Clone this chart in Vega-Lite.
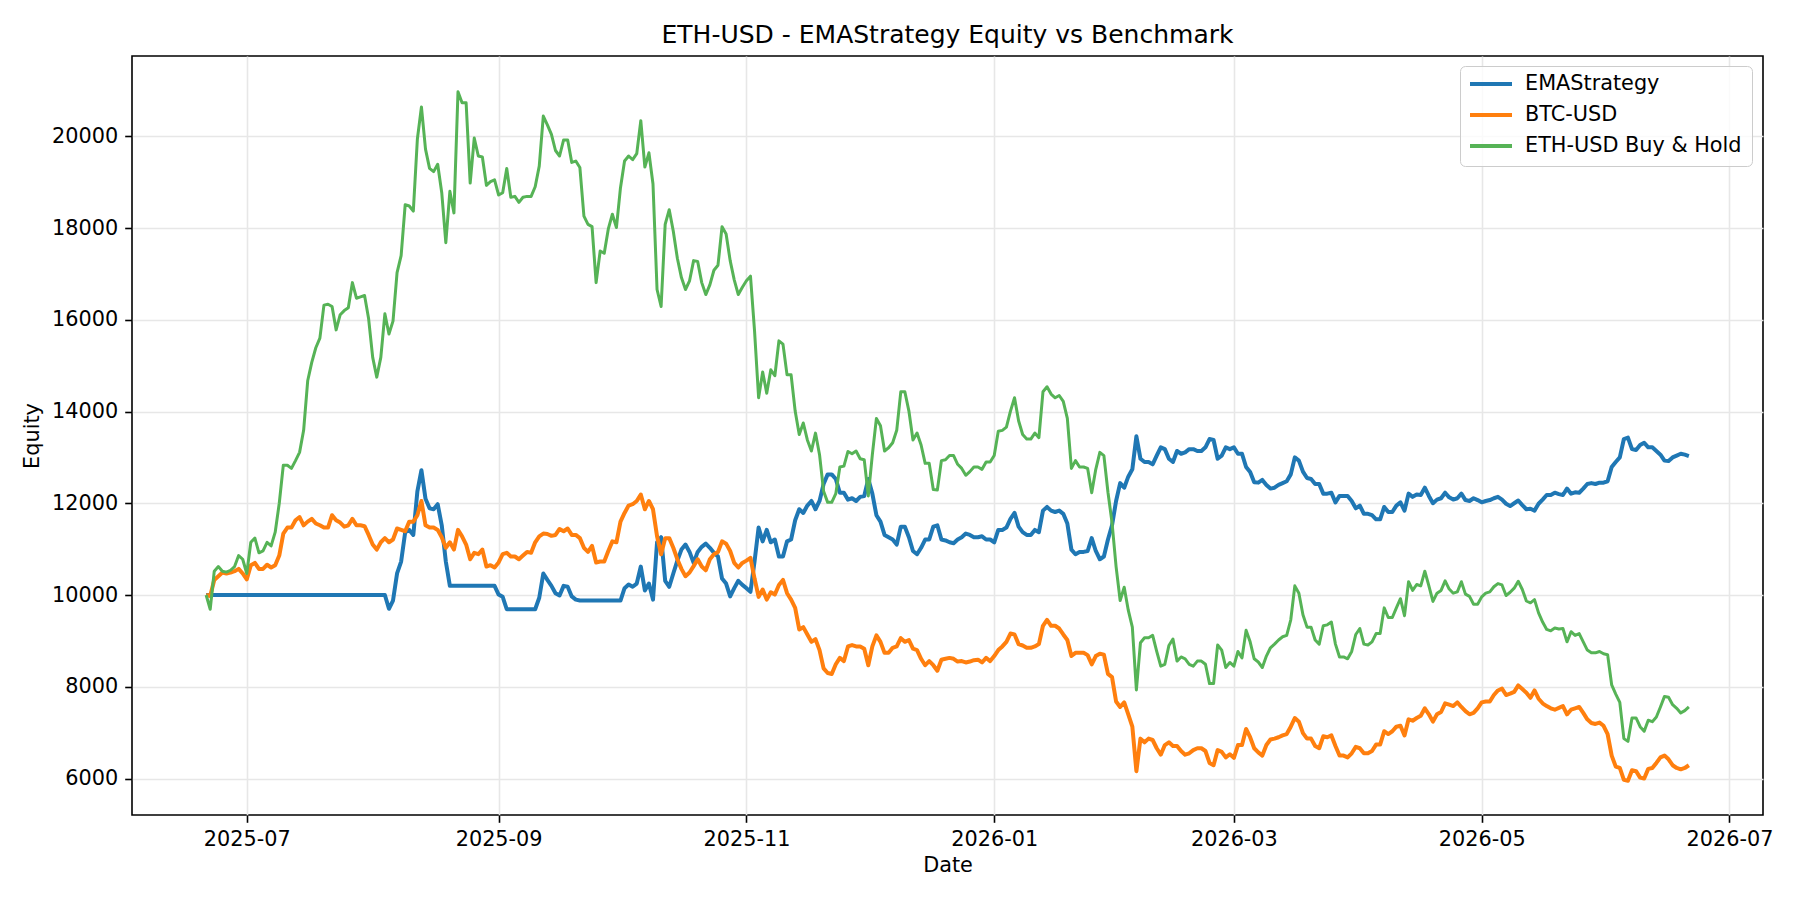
{
  "$schema": "https://vega.github.io/schema/vega-lite/v6.json",
  "width": 1631,
  "height": 759,
  "autosize": {"type": "none"},
  "padding": {"left": 132, "top": 56, "right": 37, "bottom": 85},
  "background": "white",
  "config": {
    "font": "DejaVu Sans",
    "view": {"stroke": "#000000", "strokeWidth": 1.6},
    "axis": {
      "labelFont": "DejaVu Sans",
      "labelFontSize": 20.8,
      "labelColor": "#000000",
      "titleFont": "DejaVu Sans",
      "titleFontSize": 20.8,
      "titleFontWeight": "normal",
      "titleColor": "#000000",
      "tickColor": "#000000",
      "tickSize": 7.3,
      "tickWidth": 1.6,
      "labelPadding": 7,
      "domain": false,
      "grid": true,
      "gridColor": "#e7e7e7",
      "gridWidth": 1.6
    }
  },
  "title": {
    "text": "ETH-USD - EMAStrategy Equity vs Benchmark",
    "font": "DejaVu Sans",
    "fontSize": 25,
    "fontWeight": "normal",
    "color": "#000000",
    "anchor": "middle",
    "frame": "group",
    "offset": 8
  },
  "data": {
    "values": [
      {"date":"2025-06-21","ema":10000,"btc":10000,"eth":10000},
      {"date":"2025-06-22","ema":10000,"btc":9980,"eth":9690},
      {"date":"2025-06-23","ema":10000,"btc":10330,"eth":10520},
      {"date":"2025-06-24","ema":10000,"btc":10410,"eth":10620},
      {"date":"2025-06-25","ema":10000,"btc":10490,"eth":10520},
      {"date":"2025-06-26","ema":10000,"btc":10470,"eth":10500},
      {"date":"2025-06-27","ema":10000,"btc":10490,"eth":10540},
      {"date":"2025-06-28","ema":10000,"btc":10520,"eth":10620},
      {"date":"2025-06-29","ema":10000,"btc":10570,"eth":10860},
      {"date":"2025-06-30","ema":10000,"btc":10470,"eth":10780},
      {"date":"2025-07-01","ema":10000,"btc":10340,"eth":10470},
      {"date":"2025-07-02","ema":10000,"btc":10650,"eth":11150},
      {"date":"2025-07-03","ema":10000,"btc":10700,"eth":11240},
      {"date":"2025-07-04","ema":10000,"btc":10570,"eth":10920},
      {"date":"2025-07-05","ema":10000,"btc":10570,"eth":10960},
      {"date":"2025-07-06","ema":10000,"btc":10660,"eth":11150},
      {"date":"2025-07-07","ema":10000,"btc":10600,"eth":11070},
      {"date":"2025-07-08","ema":10000,"btc":10650,"eth":11370},
      {"date":"2025-07-09","ema":10000,"btc":10860,"eth":12000},
      {"date":"2025-07-10","ema":10000,"btc":11340,"eth":12830},
      {"date":"2025-07-11","ema":10000,"btc":11470,"eth":12830},
      {"date":"2025-07-12","ema":10000,"btc":11470,"eth":12760},
      {"date":"2025-07-13","ema":10000,"btc":11630,"eth":12930},
      {"date":"2025-07-14","ema":10000,"btc":11700,"eth":13110},
      {"date":"2025-07-15","ema":10000,"btc":11520,"eth":13590},
      {"date":"2025-07-16","ema":10000,"btc":11600,"eth":14670},
      {"date":"2025-07-17","ema":10000,"btc":11660,"eth":15070},
      {"date":"2025-07-18","ema":10000,"btc":11560,"eth":15390},
      {"date":"2025-07-19","ema":10000,"btc":11520,"eth":15600},
      {"date":"2025-07-20","ema":10000,"btc":11470,"eth":16320},
      {"date":"2025-07-21","ema":10000,"btc":11470,"eth":16340},
      {"date":"2025-07-22","ema":10000,"btc":11740,"eth":16290},
      {"date":"2025-07-23","ema":10000,"btc":11630,"eth":15780},
      {"date":"2025-07-24","ema":10000,"btc":11580,"eth":16110},
      {"date":"2025-07-25","ema":10000,"btc":11490,"eth":16200},
      {"date":"2025-07-26","ema":10000,"btc":11520,"eth":16260},
      {"date":"2025-07-27","ema":10000,"btc":11660,"eth":16810},
      {"date":"2025-07-28","ema":10000,"btc":11520,"eth":16470},
      {"date":"2025-07-29","ema":10000,"btc":11520,"eth":16500},
      {"date":"2025-07-30","ema":10000,"btc":11500,"eth":16530},
      {"date":"2025-07-31","ema":10000,"btc":11310,"eth":16020},
      {"date":"2025-08-01","ema":10000,"btc":11100,"eth":15180},
      {"date":"2025-08-02","ema":10000,"btc":10990,"eth":14750},
      {"date":"2025-08-03","ema":10000,"btc":11150,"eth":15180},
      {"date":"2025-08-04","ema":10000,"btc":11240,"eth":16130},
      {"date":"2025-08-05","ema":9700,"btc":11150,"eth":15690},
      {"date":"2025-08-06","ema":9880,"btc":11210,"eth":15970},
      {"date":"2025-08-07","ema":10470,"btc":11450,"eth":17030},
      {"date":"2025-08-08","ema":10730,"btc":11420,"eth":17400},
      {"date":"2025-08-09","ema":11370,"btc":11390,"eth":18510},
      {"date":"2025-08-10","ema":11420,"btc":11600,"eth":18480},
      {"date":"2025-08-11","ema":11310,"btc":11600,"eth":18370},
      {"date":"2025-08-12","ema":12260,"btc":11740,"eth":19940},
      {"date":"2025-08-13","ema":12720,"btc":12050,"eth":20640},
      {"date":"2025-08-14","ema":12100,"btc":11520,"eth":19720},
      {"date":"2025-08-15","ema":11890,"btc":11470,"eth":19300},
      {"date":"2025-08-16","ema":11870,"btc":11470,"eth":19230},
      {"date":"2025-08-17","ema":11980,"btc":11420,"eth":19390},
      {"date":"2025-08-18","ema":11520,"btc":11260,"eth":18770},
      {"date":"2025-08-19","ema":10730,"btc":11030,"eth":17680},
      {"date":"2025-08-20","ema":10200,"btc":11150,"eth":18800},
      {"date":"2025-08-21","ema":10200,"btc":10990,"eth":18330},
      {"date":"2025-08-22","ema":10200,"btc":11420,"eth":20970},
      {"date":"2025-08-23","ema":10200,"btc":11280,"eth":20730},
      {"date":"2025-08-24","ema":10200,"btc":11100,"eth":20730},
      {"date":"2025-08-25","ema":10200,"btc":10780,"eth":18980},
      {"date":"2025-08-26","ema":10200,"btc":10920,"eth":19960},
      {"date":"2025-08-27","ema":10200,"btc":10890,"eth":19570},
      {"date":"2025-08-28","ema":10200,"btc":10990,"eth":19550},
      {"date":"2025-08-29","ema":10200,"btc":10620,"eth":18930},
      {"date":"2025-08-30","ema":10200,"btc":10650,"eth":19010},
      {"date":"2025-08-31","ema":10200,"btc":10600,"eth":19050},
      {"date":"2025-09-01","ema":10010,"btc":10710,"eth":18720},
      {"date":"2025-09-02","ema":9960,"btc":10890,"eth":18770},
      {"date":"2025-09-03","ema":9690,"btc":10920,"eth":19300},
      {"date":"2025-09-04","ema":9690,"btc":10840,"eth":18670},
      {"date":"2025-09-05","ema":9690,"btc":10840,"eth":18690},
      {"date":"2025-09-06","ema":9690,"btc":10780,"eth":18560},
      {"date":"2025-09-07","ema":9690,"btc":10860,"eth":18670},
      {"date":"2025-09-08","ema":9690,"btc":10940,"eth":18690},
      {"date":"2025-09-09","ema":9690,"btc":10920,"eth":18690},
      {"date":"2025-09-10","ema":9690,"btc":11150,"eth":18900},
      {"date":"2025-09-11","ema":9940,"btc":11280,"eth":19350},
      {"date":"2025-09-12","ema":10470,"btc":11340,"eth":20440},
      {"date":"2025-09-13","ema":10330,"btc":11330,"eth":20250},
      {"date":"2025-09-14","ema":10200,"btc":11290,"eth":20040},
      {"date":"2025-09-15","ema":10040,"btc":11310,"eth":19690},
      {"date":"2025-09-16","ema":9990,"btc":11440,"eth":19570},
      {"date":"2025-09-17","ema":10200,"btc":11390,"eth":19920},
      {"date":"2025-09-18","ema":10180,"btc":11450,"eth":19920},
      {"date":"2025-09-19","ema":9970,"btc":11310,"eth":19430},
      {"date":"2025-09-20","ema":9900,"btc":11310,"eth":19460},
      {"date":"2025-09-21","ema":9880,"btc":11240,"eth":19320},
      {"date":"2025-09-22","ema":9880,"btc":11030,"eth":18260},
      {"date":"2025-09-23","ema":9880,"btc":10940,"eth":18080},
      {"date":"2025-09-24","ema":9880,"btc":11070,"eth":18030},
      {"date":"2025-09-25","ema":9880,"btc":10710,"eth":16810},
      {"date":"2025-09-26","ema":9880,"btc":10730,"eth":17500},
      {"date":"2025-09-27","ema":9880,"btc":10730,"eth":17450},
      {"date":"2025-09-28","ema":9880,"btc":10960,"eth":17980},
      {"date":"2025-09-29","ema":9880,"btc":11170,"eth":18300},
      {"date":"2025-09-30","ema":9880,"btc":11150,"eth":18010},
      {"date":"2025-10-01","ema":9880,"btc":11600,"eth":18880},
      {"date":"2025-10-02","ema":10150,"btc":11790,"eth":19460},
      {"date":"2025-10-03","ema":10230,"btc":11950,"eth":19570},
      {"date":"2025-10-04","ema":10180,"btc":11980,"eth":19490},
      {"date":"2025-10-05","ema":10250,"btc":12050,"eth":19620},
      {"date":"2025-10-06","ema":10620,"btc":12190,"eth":20340},
      {"date":"2025-10-07","ema":10100,"btc":11870,"eth":19330},
      {"date":"2025-10-08","ema":10250,"btc":12050,"eth":19640},
      {"date":"2025-10-09","ema":9900,"btc":11870,"eth":18960},
      {"date":"2025-10-10","ema":11150,"btc":11280,"eth":16660},
      {"date":"2025-10-11","ema":11260,"btc":10890,"eth":16290},
      {"date":"2025-10-12","ema":10310,"btc":11240,"eth":18080},
      {"date":"2025-10-13","ema":10180,"btc":11240,"eth":18400},
      {"date":"2025-10-14","ema":10470,"btc":11030,"eth":17930},
      {"date":"2025-10-15","ema":10750,"btc":10780,"eth":17340},
      {"date":"2025-10-16","ema":10990,"btc":10570,"eth":16920},
      {"date":"2025-10-17","ema":11100,"btc":10410,"eth":16660},
      {"date":"2025-10-18","ema":10940,"btc":10490,"eth":16850},
      {"date":"2025-10-19","ema":10700,"btc":10630,"eth":17290},
      {"date":"2025-10-20","ema":10940,"btc":10780,"eth":17270},
      {"date":"2025-10-21","ema":11050,"btc":10620,"eth":16810},
      {"date":"2025-10-22","ema":11120,"btc":10540,"eth":16550},
      {"date":"2025-10-23","ema":11030,"btc":10780,"eth":16760},
      {"date":"2025-10-24","ema":10920,"btc":10890,"eth":17080},
      {"date":"2025-10-25","ema":10840,"btc":10940,"eth":17190},
      {"date":"2025-10-26","ema":10360,"btc":11170,"eth":18030},
      {"date":"2025-10-27","ema":10250,"btc":11120,"eth":17870},
      {"date":"2025-10-28","ema":9970,"btc":10960,"eth":17290},
      {"date":"2025-10-29","ema":10150,"btc":10700,"eth":16870},
      {"date":"2025-10-30","ema":10310,"btc":10600,"eth":16550},
      {"date":"2025-10-31","ema":10220,"btc":10700,"eth":16710},
      {"date":"2025-11-01","ema":10150,"btc":10750,"eth":16850},
      {"date":"2025-11-02","ema":10070,"btc":10810,"eth":16950},
      {"date":"2025-11-03","ema":10730,"btc":10360,"eth":15760},
      {"date":"2025-11-04","ema":11470,"btc":9960,"eth":14300},
      {"date":"2025-11-05","ema":11170,"btc":10120,"eth":14860},
      {"date":"2025-11-06","ema":11420,"btc":9900,"eth":14400},
      {"date":"2025-11-07","ema":11150,"btc":10060,"eth":14910},
      {"date":"2025-11-08","ema":11210,"btc":10010,"eth":14780},
      {"date":"2025-11-09","ema":10840,"btc":10220,"eth":15540},
      {"date":"2025-11-10","ema":10840,"btc":10330,"eth":15470},
      {"date":"2025-11-11","ema":11170,"btc":10040,"eth":14800},
      {"date":"2025-11-12","ema":11210,"btc":9900,"eth":14800},
      {"date":"2025-11-13","ema":11630,"btc":9720,"eth":14010},
      {"date":"2025-11-14","ema":11870,"btc":9250,"eth":13500},
      {"date":"2025-11-15","ema":11790,"btc":9300,"eth":13750},
      {"date":"2025-11-16","ema":11950,"btc":9140,"eth":13380},
      {"date":"2025-11-17","ema":12050,"btc":8980,"eth":13140},
      {"date":"2025-11-18","ema":11870,"btc":9040,"eth":13530},
      {"date":"2025-11-19","ema":12050,"btc":8800,"eth":13060},
      {"date":"2025-11-20","ema":12420,"btc":8400,"eth":12260},
      {"date":"2025-11-21","ema":12630,"btc":8300,"eth":12020},
      {"date":"2025-11-22","ema":12630,"btc":8280,"eth":12020},
      {"date":"2025-11-23","ema":12530,"btc":8490,"eth":12210},
      {"date":"2025-11-24","ema":12230,"btc":8630,"eth":12790},
      {"date":"2025-11-25","ema":12230,"btc":8560,"eth":12810},
      {"date":"2025-11-26","ema":12080,"btc":8880,"eth":13130},
      {"date":"2025-11-27","ema":12110,"btc":8910,"eth":13080},
      {"date":"2025-11-28","ema":12050,"btc":8880,"eth":13140},
      {"date":"2025-11-29","ema":12140,"btc":8880,"eth":12970},
      {"date":"2025-11-30","ema":12160,"btc":8830,"eth":12950},
      {"date":"2025-12-01","ema":12530,"btc":8470,"eth":12160},
      {"date":"2025-12-02","ema":12210,"btc":8880,"eth":13060},
      {"date":"2025-12-03","ema":11740,"btc":9120,"eth":13850},
      {"date":"2025-12-04","ema":11600,"btc":8980,"eth":13690},
      {"date":"2025-12-05","ema":11310,"btc":8740,"eth":13140},
      {"date":"2025-12-06","ema":11260,"btc":8740,"eth":13210},
      {"date":"2025-12-07","ema":11210,"btc":8850,"eth":13320},
      {"date":"2025-12-08","ema":11100,"btc":8880,"eth":13590},
      {"date":"2025-12-09","ema":11490,"btc":9060,"eth":14430},
      {"date":"2025-12-10","ema":11490,"btc":8980,"eth":14430},
      {"date":"2025-12-11","ema":11260,"btc":9020,"eth":14010},
      {"date":"2025-12-12","ema":10960,"btc":8830,"eth":13380},
      {"date":"2025-12-13","ema":10890,"btc":8800,"eth":13530},
      {"date":"2025-12-14","ema":11030,"btc":8610,"eth":13270},
      {"date":"2025-12-15","ema":11210,"btc":8470,"eth":12870},
      {"date":"2025-12-16","ema":11210,"btc":8560,"eth":12870},
      {"date":"2025-12-17","ema":11490,"btc":8470,"eth":12300},
      {"date":"2025-12-18","ema":11520,"btc":8350,"eth":12290},
      {"date":"2025-12-19","ema":11210,"btc":8590,"eth":12930},
      {"date":"2025-12-20","ema":11190,"btc":8610,"eth":12950},
      {"date":"2025-12-21","ema":11150,"btc":8630,"eth":13040},
      {"date":"2025-12-22","ema":11130,"btc":8610,"eth":13040},
      {"date":"2025-12-23","ema":11210,"btc":8550,"eth":12850},
      {"date":"2025-12-24","ema":11260,"btc":8560,"eth":12760},
      {"date":"2025-12-25","ema":11340,"btc":8530,"eth":12610},
      {"date":"2025-12-26","ema":11310,"btc":8550,"eth":12690},
      {"date":"2025-12-27","ema":11260,"btc":8580,"eth":12790},
      {"date":"2025-12-28","ema":11260,"btc":8590,"eth":12790},
      {"date":"2025-12-29","ema":11280,"btc":8530,"eth":12740},
      {"date":"2025-12-30","ema":11210,"btc":8630,"eth":12900},
      {"date":"2025-12-31","ema":11210,"btc":8560,"eth":12900},
      {"date":"2026-01-01","ema":11150,"btc":8670,"eth":13040},
      {"date":"2026-01-02","ema":11420,"btc":8800,"eth":13570},
      {"date":"2026-01-03","ema":11420,"btc":8880,"eth":13590},
      {"date":"2026-01-04","ema":11470,"btc":8980,"eth":13660},
      {"date":"2026-01-05","ema":11660,"btc":9160,"eth":14010},
      {"date":"2026-01-06","ema":11790,"btc":9140,"eth":14300},
      {"date":"2026-01-07","ema":11490,"btc":8930,"eth":13800},
      {"date":"2026-01-08","ema":11370,"btc":8900,"eth":13500},
      {"date":"2026-01-09","ema":11310,"btc":8850,"eth":13400},
      {"date":"2026-01-10","ema":11310,"btc":8850,"eth":13400},
      {"date":"2026-01-11","ema":11420,"btc":8880,"eth":13530},
      {"date":"2026-01-12","ema":11370,"btc":8930,"eth":13430},
      {"date":"2026-01-13","ema":11840,"btc":9330,"eth":14430},
      {"date":"2026-01-14","ema":11920,"btc":9460,"eth":14540},
      {"date":"2026-01-15","ema":11840,"btc":9330,"eth":14380},
      {"date":"2026-01-16","ema":11810,"btc":9330,"eth":14300},
      {"date":"2026-01-17","ema":11840,"btc":9270,"eth":14350},
      {"date":"2026-01-18","ema":11770,"btc":9140,"eth":14220},
      {"date":"2026-01-19","ema":11560,"btc":9020,"eth":13850},
      {"date":"2026-01-20","ema":10990,"btc":8670,"eth":12760},
      {"date":"2026-01-21","ema":10890,"btc":8740,"eth":12930},
      {"date":"2026-01-22","ema":10940,"btc":8740,"eth":12790},
      {"date":"2026-01-23","ema":10940,"btc":8740,"eth":12790},
      {"date":"2026-01-24","ema":10960,"btc":8690,"eth":12760},
      {"date":"2026-01-25","ema":11240,"btc":8490,"eth":12230},
      {"date":"2026-01-26","ema":10960,"btc":8670,"eth":12740},
      {"date":"2026-01-27","ema":10780,"btc":8720,"eth":13110},
      {"date":"2026-01-28","ema":10840,"btc":8700,"eth":13040},
      {"date":"2026-01-29","ema":11210,"btc":8280,"eth":12240},
      {"date":"2026-01-30","ema":11520,"btc":8210,"eth":11580},
      {"date":"2026-01-31","ema":12050,"btc":7680,"eth":10620},
      {"date":"2026-02-01","ema":12440,"btc":7560,"eth":9880},
      {"date":"2026-02-02","ema":12340,"btc":7660,"eth":10170},
      {"date":"2026-02-03","ema":12580,"btc":7400,"eth":9670},
      {"date":"2026-02-04","ema":12740,"btc":7130,"eth":9300},
      {"date":"2026-02-05","ema":13460,"btc":6160,"eth":7930},
      {"date":"2026-02-06","ema":12970,"btc":6870,"eth":8960},
      {"date":"2026-02-07","ema":12900,"btc":6790,"eth":9070},
      {"date":"2026-02-08","ema":12900,"btc":6870,"eth":9070},
      {"date":"2026-02-09","ema":12850,"btc":6840,"eth":9120},
      {"date":"2026-02-10","ema":13040,"btc":6660,"eth":8770},
      {"date":"2026-02-11","ema":13220,"btc":6520,"eth":8450},
      {"date":"2026-02-12","ema":13180,"btc":6730,"eth":8490},
      {"date":"2026-02-13","ema":12970,"btc":6790,"eth":8900},
      {"date":"2026-02-14","ema":12900,"btc":6710,"eth":9040},
      {"date":"2026-02-15","ema":13140,"btc":6710,"eth":8560},
      {"date":"2026-02-16","ema":13080,"btc":6600,"eth":8650},
      {"date":"2026-02-17","ema":13110,"btc":6520,"eth":8610},
      {"date":"2026-02-18","ema":13180,"btc":6550,"eth":8490},
      {"date":"2026-02-19","ema":13180,"btc":6620,"eth":8450},
      {"date":"2026-02-20","ema":13140,"btc":6660,"eth":8560},
      {"date":"2026-02-21","ema":13140,"btc":6660,"eth":8560},
      {"date":"2026-02-22","ema":13220,"btc":6600,"eth":8490},
      {"date":"2026-02-23","ema":13400,"btc":6340,"eth":8070},
      {"date":"2026-02-24","ema":13380,"btc":6290,"eth":8070},
      {"date":"2026-02-25","ema":12970,"btc":6620,"eth":8910},
      {"date":"2026-02-26","ema":13040,"btc":6580,"eth":8800},
      {"date":"2026-02-27","ema":13220,"btc":6460,"eth":8420},
      {"date":"2026-02-28","ema":13180,"btc":6530,"eth":8530},
      {"date":"2026-03-01","ema":13220,"btc":6450,"eth":8450},
      {"date":"2026-03-02","ema":13080,"btc":6730,"eth":8770},
      {"date":"2026-03-03","ema":13080,"btc":6730,"eth":8630},
      {"date":"2026-03-04","ema":12790,"btc":7080,"eth":9230},
      {"date":"2026-03-05","ema":12680,"btc":6900,"eth":8980},
      {"date":"2026-03-06","ema":12460,"btc":6660,"eth":8610},
      {"date":"2026-03-07","ema":12450,"btc":6570,"eth":8540},
      {"date":"2026-03-08","ema":12510,"btc":6500,"eth":8420},
      {"date":"2026-03-09","ema":12400,"btc":6730,"eth":8670},
      {"date":"2026-03-10","ema":12320,"btc":6850,"eth":8850},
      {"date":"2026-03-11","ema":12340,"btc":6870,"eth":8930},
      {"date":"2026-03-12","ema":12400,"btc":6900,"eth":9020},
      {"date":"2026-03-13","ema":12440,"btc":6940,"eth":9090},
      {"date":"2026-03-14","ema":12480,"btc":6970,"eth":9120},
      {"date":"2026-03-15","ema":12630,"btc":7130,"eth":9460},
      {"date":"2026-03-16","ema":13000,"btc":7320,"eth":10200},
      {"date":"2026-03-17","ema":12930,"btc":7240,"eth":10040},
      {"date":"2026-03-18","ema":12690,"btc":6990,"eth":9570},
      {"date":"2026-03-19","ema":12550,"btc":6870,"eth":9300},
      {"date":"2026-03-20","ema":12530,"btc":6870,"eth":9300},
      {"date":"2026-03-21","ema":12420,"btc":6710,"eth":9020},
      {"date":"2026-03-22","ema":12420,"btc":6660,"eth":8930},
      {"date":"2026-03-23","ema":12210,"btc":6920,"eth":9330},
      {"date":"2026-03-24","ema":12210,"btc":6900,"eth":9350},
      {"date":"2026-03-25","ema":12230,"btc":6940,"eth":9410},
      {"date":"2026-03-26","ema":12020,"btc":6710,"eth":8930},
      {"date":"2026-03-27","ema":12160,"btc":6500,"eth":8650},
      {"date":"2026-03-28","ema":12160,"btc":6500,"eth":8650},
      {"date":"2026-03-29","ema":12160,"btc":6460,"eth":8610},
      {"date":"2026-03-30","ema":12050,"btc":6550,"eth":8770},
      {"date":"2026-03-31","ema":11890,"btc":6690,"eth":9140},
      {"date":"2026-04-01","ema":11950,"btc":6660,"eth":9270},
      {"date":"2026-04-02","ema":11770,"btc":6550,"eth":8930},
      {"date":"2026-04-03","ema":11770,"btc":6550,"eth":8910},
      {"date":"2026-04-04","ema":11740,"btc":6600,"eth":8980},
      {"date":"2026-04-05","ema":11650,"btc":6740,"eth":9160},
      {"date":"2026-04-06","ema":11650,"btc":6740,"eth":9160},
      {"date":"2026-04-07","ema":11920,"btc":7030,"eth":9720},
      {"date":"2026-04-08","ema":11810,"btc":6970,"eth":9510},
      {"date":"2026-04-09","ema":11810,"btc":7030,"eth":9510},
      {"date":"2026-04-10","ema":11950,"btc":7130,"eth":9720},
      {"date":"2026-04-11","ema":12020,"btc":7150,"eth":9920},
      {"date":"2026-04-12","ema":11840,"btc":6940,"eth":9550},
      {"date":"2026-04-13","ema":12210,"btc":7290,"eth":10290},
      {"date":"2026-04-14","ema":12140,"btc":7260,"eth":10100},
      {"date":"2026-04-15","ema":12190,"btc":7320,"eth":10230},
      {"date":"2026-04-16","ema":12180,"btc":7370,"eth":10200},
      {"date":"2026-04-17","ema":12340,"btc":7530,"eth":10520},
      {"date":"2026-04-18","ema":12160,"btc":7400,"eth":10200},
      {"date":"2026-04-19","ema":12000,"btc":7240,"eth":9860},
      {"date":"2026-04-20","ema":12080,"btc":7400,"eth":10040},
      {"date":"2026-04-21","ema":12110,"btc":7450,"eth":10100},
      {"date":"2026-04-22","ema":12230,"btc":7640,"eth":10310},
      {"date":"2026-04-23","ema":12130,"btc":7610,"eth":10130},
      {"date":"2026-04-24","ema":12080,"btc":7580,"eth":10040},
      {"date":"2026-04-25","ema":12110,"btc":7660,"eth":10070},
      {"date":"2026-04-26","ema":12210,"btc":7560,"eth":10290},
      {"date":"2026-04-27","ema":12070,"btc":7470,"eth":10020},
      {"date":"2026-04-28","ema":12050,"btc":7400,"eth":9970},
      {"date":"2026-04-29","ema":12110,"btc":7430,"eth":9800},
      {"date":"2026-04-30","ema":12070,"btc":7530,"eth":9800},
      {"date":"2026-05-01","ema":12020,"btc":7660,"eth":9960},
      {"date":"2026-05-02","ema":12050,"btc":7680,"eth":10040},
      {"date":"2026-05-03","ema":12070,"btc":7680,"eth":10070},
      {"date":"2026-05-04","ema":12110,"btc":7820,"eth":10180},
      {"date":"2026-05-05","ema":12140,"btc":7920,"eth":10250},
      {"date":"2026-05-06","ema":12080,"btc":7960,"eth":10220},
      {"date":"2026-05-07","ema":11990,"btc":7820,"eth":9990},
      {"date":"2026-05-08","ema":11940,"btc":7850,"eth":10060},
      {"date":"2026-05-09","ema":12000,"btc":7890,"eth":10150},
      {"date":"2026-05-10","ema":12060,"btc":8030,"eth":10300},
      {"date":"2026-05-11","ema":11960,"btc":7950,"eth":10120},
      {"date":"2026-05-12","ema":11870,"btc":7870,"eth":9870},
      {"date":"2026-05-13","ema":11880,"btc":7760,"eth":9830},
      {"date":"2026-05-14","ema":11840,"btc":7920,"eth":9900},
      {"date":"2026-05-15","ema":11990,"btc":7740,"eth":9610},
      {"date":"2026-05-16","ema":12080,"btc":7640,"eth":9410},
      {"date":"2026-05-17","ema":12180,"btc":7580,"eth":9250},
      {"date":"2026-05-18","ema":12180,"btc":7530,"eth":9220},
      {"date":"2026-05-19","ema":12230,"btc":7500,"eth":9280},
      {"date":"2026-05-20","ema":12200,"btc":7540,"eth":9260},
      {"date":"2026-05-21","ema":12180,"btc":7580,"eth":9270},
      {"date":"2026-05-22","ema":12320,"btc":7400,"eth":8980},
      {"date":"2026-05-23","ema":12210,"btc":7500,"eth":9200},
      {"date":"2026-05-24","ema":12240,"btc":7530,"eth":9120},
      {"date":"2026-05-25","ema":12230,"btc":7560,"eth":9160},
      {"date":"2026-05-26","ema":12320,"btc":7430,"eth":8980},
      {"date":"2026-05-27","ema":12420,"btc":7290,"eth":8800},
      {"date":"2026-05-28","ema":12440,"btc":7210,"eth":8740},
      {"date":"2026-05-29","ema":12420,"btc":7190,"eth":8740},
      {"date":"2026-05-30","ema":12450,"btc":7220,"eth":8770},
      {"date":"2026-05-31","ema":12450,"btc":7150,"eth":8720},
      {"date":"2026-06-01","ema":12480,"btc":6970,"eth":8700},
      {"date":"2026-06-02","ema":12790,"btc":6500,"eth":8040},
      {"date":"2026-06-03","ema":12900,"btc":6260,"eth":7840},
      {"date":"2026-06-04","ema":13000,"btc":6230,"eth":7660},
      {"date":"2026-06-05","ema":13400,"btc":5970,"eth":6870},
      {"date":"2026-06-06","ema":13430,"btc":5950,"eth":6810},
      {"date":"2026-06-07","ema":13180,"btc":6180,"eth":7320},
      {"date":"2026-06-08","ema":13160,"btc":6160,"eth":7320},
      {"date":"2026-06-09","ema":13270,"btc":6020,"eth":7130},
      {"date":"2026-06-10","ema":13320,"btc":6000,"eth":7030},
      {"date":"2026-06-11","ema":13220,"btc":6210,"eth":7270},
      {"date":"2026-06-12","ema":13220,"btc":6230,"eth":7240},
      {"date":"2026-06-13","ema":13140,"btc":6340,"eth":7340},
      {"date":"2026-06-14","ema":13060,"btc":6460,"eth":7560},
      {"date":"2026-06-15","ema":12930,"btc":6500,"eth":7790},
      {"date":"2026-06-16","ema":12920,"btc":6420,"eth":7770},
      {"date":"2026-06-17","ema":13000,"btc":6290,"eth":7610},
      {"date":"2026-06-18","ema":13040,"btc":6230,"eth":7530},
      {"date":"2026-06-19","ema":13080,"btc":6200,"eth":7430},
      {"date":"2026-06-20","ema":13060,"btc":6230,"eth":7480},
      {"date":"2026-06-21","ema":13030,"btc":6290,"eth":7560}
    ]
  },
  "encoding": {
    "x": {
      "field": "date",
      "type": "temporal",
      "title": "Date",
      "scale": {
        "type": "utc",
        "domain": [
          {"year": 2025, "month": 6, "date": 2, "hours": 18, "utc": true},
          {"year": 2026, "month": 7, "date": 9, "hours": 6, "utc": true}
        ]
      },
      "axis": {
        "values": [
          {"year": 2025, "month": 7, "date": 1, "utc": true},
          {"year": 2025, "month": 9, "date": 1, "utc": true},
          {"year": 2025, "month": 11, "date": 1, "utc": true},
          {"year": 2026, "month": 1, "date": 1, "utc": true},
          {"year": 2026, "month": 3, "date": 1, "utc": true},
          {"year": 2026, "month": 5, "date": 1, "utc": true},
          {"year": 2026, "month": 7, "date": 1, "utc": true}
        ],
        "labelExpr": "utcFormat(datum.value, '%Y-%m')",
        "labelAngle": 0,
        "labelFlush": false,
        "labelOverlap": false,
        "titlePadding": 6
      }
    },
    "y": {
      "type": "quantitative",
      "title": "Equity",
      "scale": {"domain": [5205, 21750], "nice": false, "zero": false},
      "axis": {
        "values": [6000, 8000, 10000, 12000, 14000, 16000, 18000, 20000],
        "format": "d",
        "labelFlush": false,
        "labelOverlap": false,
        "titlePadding": 9
      }
    },
    "color": {
      "type": "nominal",
      "scale": {
        "domain": ["EMAStrategy", "BTC-USD", "ETH-USD Buy & Hold"],
        "range": ["#1f77b4", "#ff7f0e", "#56b356"]
      },
      "legend": {
        "orient": "none",
        "legendX": 1328,
        "legendY": 10,
        "title": null,
        "symbolType": "stroke",
        "symbolSize": 2025,
        "symbolStrokeWidth": 4,
        "symbolOffset": -5,
        "labelFont": "DejaVu Sans",
        "labelFontSize": 20.8,
        "labelColor": "#000000",
        "labelLimit": 400,
        "labelOffset": 11,
        "clipHeight": 16,
        "rowPadding": 10,
        "padding": 10,
        "fillColor": "rgba(255,255,255,0.8)",
        "strokeColor": "#cccccc",
        "cornerRadius": 5
      }
    }
  },
  "layer": [
    {
      "mark": {"type": "line", "strokeWidth": 4, "strokeJoin": "round"},
      "encoding": {
        "y": {"field": "ema"},
        "color": {"datum": "EMAStrategy"}
      }
    },
    {
      "mark": {"type": "line", "strokeWidth": 4, "strokeJoin": "round"},
      "encoding": {
        "y": {"field": "btc"},
        "color": {"datum": "BTC-USD"}
      }
    },
    {
      "mark": {"type": "line", "strokeWidth": 3, "strokeJoin": "round"},
      "encoding": {
        "y": {"field": "eth"},
        "color": {"datum": "ETH-USD Buy & Hold"}
      }
    }
  ]
}
